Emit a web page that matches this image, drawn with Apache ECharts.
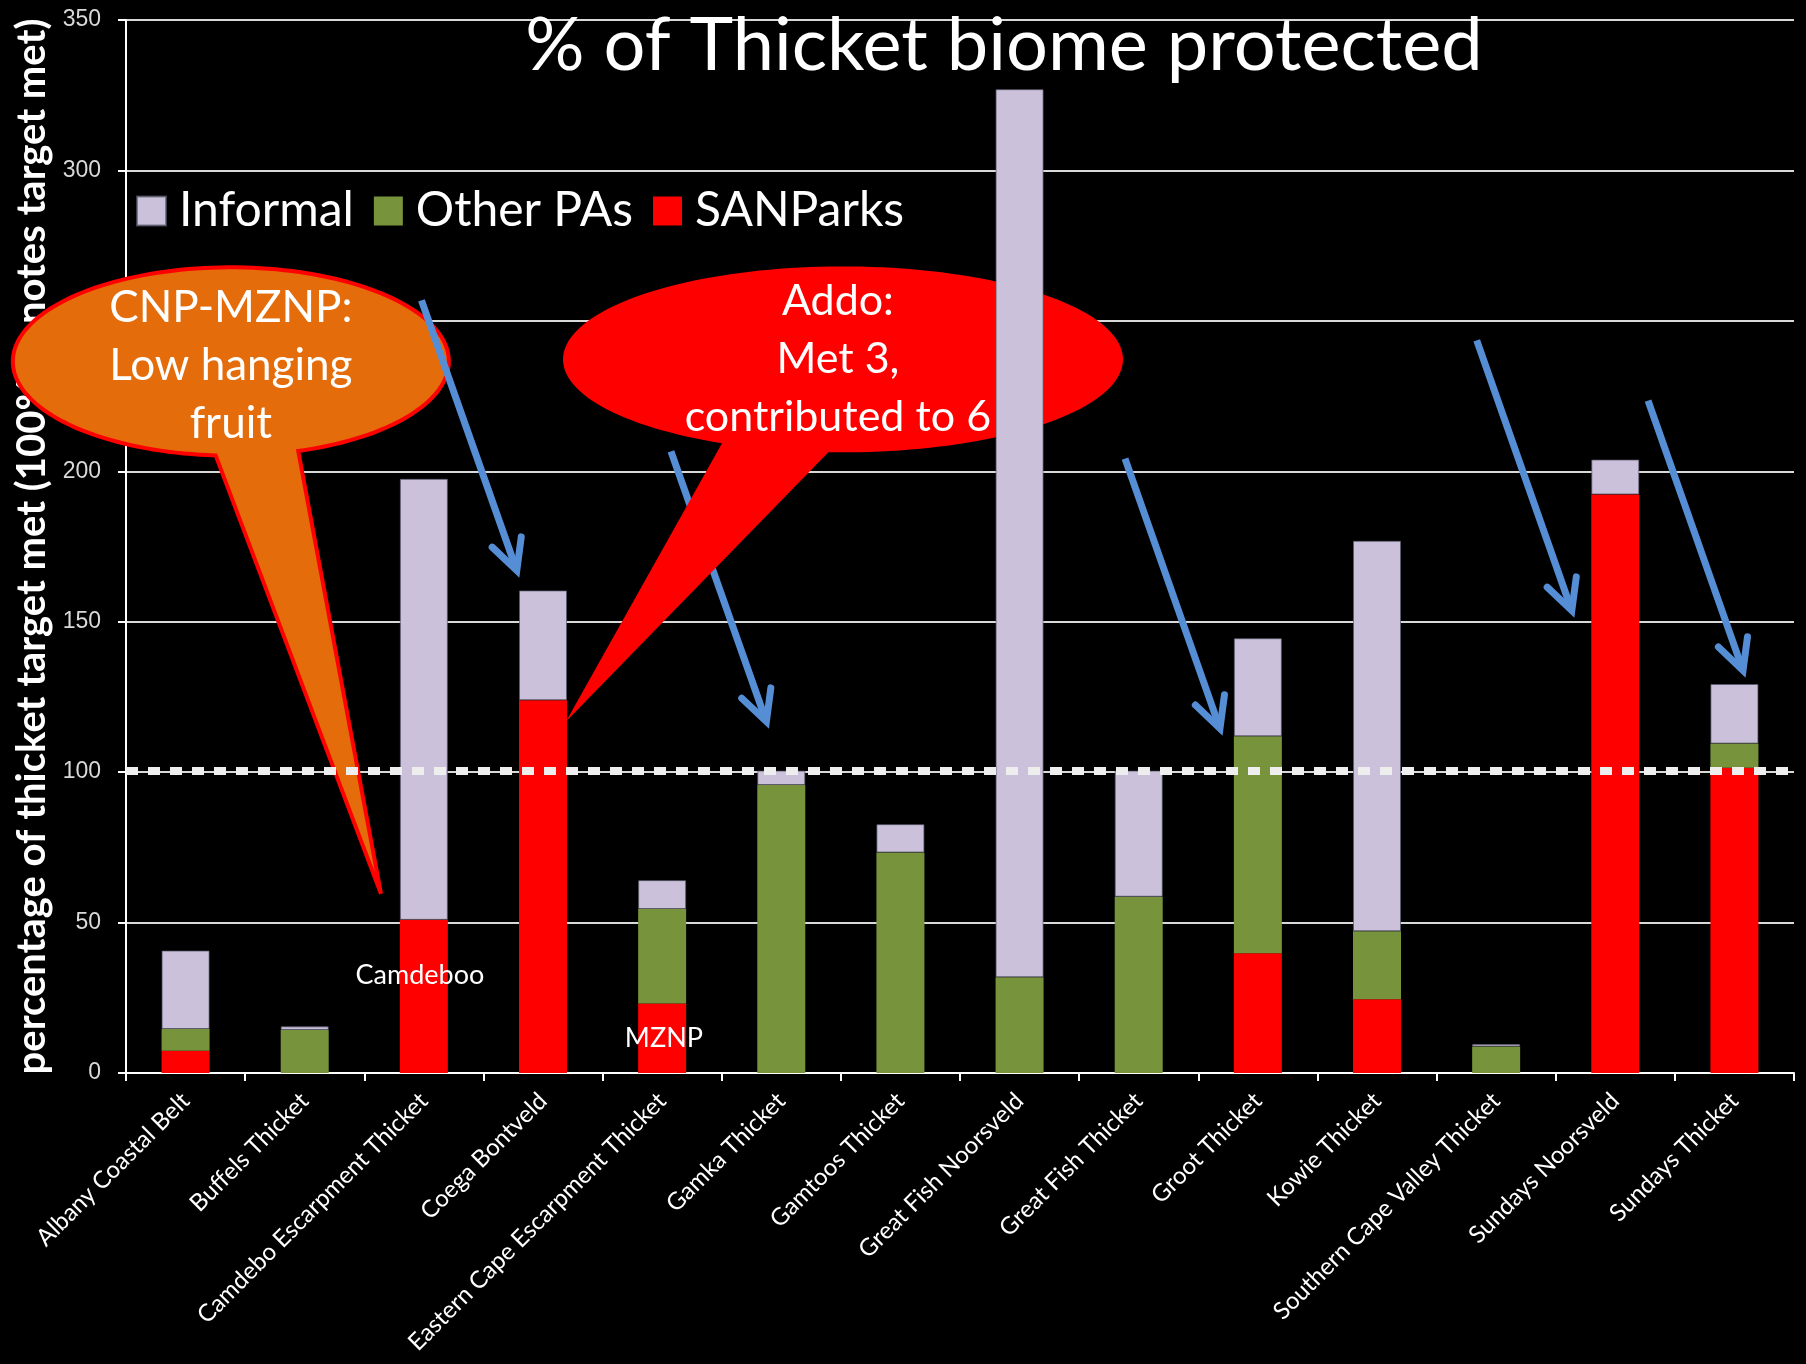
<!DOCTYPE html>
<html>
<head>
<meta charset="utf-8">
<script src="https://cdn.jsdelivr.net/npm/echarts@6/dist/echarts.min.js"></script>
<style>
html,body{margin:0;padding:0;background:#000;}
#chart{width:1806px;height:1364px;}
</style>
</head>
<body>
<div id="chart"></div>
<script>
// ---------- data ----------
const categories = ['Albany Coastal Belt','Buffels Thicket','Camdebo Escarpment Thicket','Coega Bontveld','Eastern Cape Escarpment Thicket','Gamka Thicket','Gamtoos Thicket','Great Fish Noorsveld','Great Fish Thicket','Groot Thicket','Kowie Thicket','Southern Cape Valley Thicket','Sundays Noorsveld','Sundays Thicket'];
const sanparks  = [7.4, 0, 50.9, 123.9, 23.1, 0, 0, 0, 0, 39.8, 24.5, 0, 192.3, 101.5];
const otherPAs  = [7.2, 14.3, 0, 0, 31.4, 95.7, 73.3, 31.8, 58.6, 72.1, 22.6, 8.8, 0, 8.0];
const informal  = [26.1, 1.2, 146.6, 36.5, 9.6, 4.8, 9.4, 295.2, 41.9, 32.6, 129.8, 0.8, 11.6, 19.8];
const seriesNames = ['Informal', 'Other PAs', 'SANParks'];
const targetLine = 100.5;
const titleText = '% of Thicket biome protected';
const yAxisName = 'percentage of thicket target met (100% denotes target met)';

// annotations in data space: [category index (fractional), value]
const callouts = [
  {lines: ['CNP-MZNP:', 'Low hanging', 'fruit'], center: [0.38, 236.5], textAt: [0.38, 235.1], rx: 1.83, ry: 31.3, tail: [72, 94], tip: [1.64, 59.6], fill: '#E46C0A', stroke: '#FF0000', font: 44},
  {lines: ['Addo:', 'Met 3,', 'contributed to 6'], center: [5.518, 237.2], textAt: [5.475, 237.2], rx: 2.35, ry: 30.9, tail: [93, 115.6], tip: [3.193, 116.8], fill: '#FF0000', stroke: null, font: 43}
];
const arrows = [
  [1.98, 256.8, 2.78, 167.0],
  [4.074, 206.6, 4.875, 116.8],
  [7.885, 204.2, 8.682, 114.5],
  [10.837, 243.5, 11.635, 153.7],
  [12.275, 223.5, 13.072, 133.8]
];
const notes = [
  {text: 'Camdeboo', at: [1.967, 32.4]},
  {text: 'MZNP', at: [4.015, 11.7]}
];

// ---------- chart ----------
const chart = echarts.init(document.getElementById('chart'));
const FONT = 'Lato, "Open Sans", sans-serif';

const option = {
  backgroundColor: '#000000',
  animation: false,
  legend: {
    data: seriesNames,
    left: 131,
    top: 182,
    itemWidth: 29,
    itemHeight: 29,
    itemGap: 20,
    icon: 'rect',
    textStyle: {color: '#FFFFFF', fontSize: 48, fontFamily: FONT, padding: [0, 0, 0, 8]}
  },
  grid: {left: 126, right: 12, top: 20, bottom: 291, containLabel: false},
  xAxis: {
    type: 'category',
    data: categories,
    axisLine: {lineStyle: {color: '#FFFFFF', width: 2}},
    axisTick: {show: true, alignWithLabel: false, length: 8, lineStyle: {color: '#FFFFFF', width: 2}},
    axisLabel: {interval: 0, rotate: 45, color: '#FFFFFF', fontSize: 24, fontFamily: FONT, margin: 24}
  },
  yAxis: {
    type: 'value',
    min: 0, max: 350, interval: 50,
    name: yAxisName,
    nameLocation: 'middle',
    nameGap: 71,
    nameTextStyle: {color: '#FFFFFF', fontSize: 40, fontWeight: 'bold', fontFamily: FONT},
    axisLine: {show: true, lineStyle: {color: '#FFFFFF', width: 2}},
    axisTick: {show: true, length: 8, lineStyle: {color: '#FFFFFF', width: 2}},
    axisLabel: {color: '#D9D9D9', fontSize: 23, fontFamily: '"Liberation Sans", Arial, sans-serif', margin: 25},
    splitLine: {lineStyle: {color: '#D9D9D9', width: 2}}
  },
  series: [
    {name: 'SANParks', type: 'bar', stack: 'total', data: sanparks, barWidth: 48, itemStyle: {color: '#FF0000'}},
    {name: 'Other PAs', type: 'bar', stack: 'total', data: otherPAs, barWidth: 48, itemStyle: {color: '#77933C'}},
    {name: 'Informal', type: 'bar', stack: 'total', data: informal, barWidth: 48,
      itemStyle: {color: '#CCC1DA', borderColor: 'rgba(90,90,110,0.7)', borderWidth: 1},
      markLine: {
        silent: true, symbol: 'none', z: 5,
        label: {show: false},
        lineStyle: {color: '#EEEEEE', width: 8, type: [12, 10], opacity: 1},
        data: [{yAxis: targetLine}]
      }
    }
  ]
};
chart.setOption(option);

// ---------- annotations (positioned through the axes) ----------
const p0 = chart.convertToPixel({gridIndex: 0}, [0, 0]);
const p1 = chart.convertToPixel({gridIndex: 0}, [1, 100]);
const catW = p1[0] - p0[0];
const unitH = (p1[1] - p0[1]) / 100;
const X = ci => p0[0] + ci * catW;
const Y = v => p0[1] + v * unitH;

const graphics = [];
graphics.push({
  type: 'text', z: 3,
  style: {text: titleText, x: 1004, y: 46, textAlign: 'center', textVerticalAlign: 'middle',
    fill: '#FFFFFF', font: 'normal 74px ' + FONT}
});

function bubble(c, z) {
  const cx = X(c.center[0]), cy = Y(c.center[1]);
  const rx = c.rx * catW, ry = Math.abs(c.ry * unitH);
  const pts = [];
  const a0 = c.tail[1], a1 = c.tail[0] + 360;
  const n = 160;
  for (let i = 0; i <= n; i++) {
    const t = (a0 + (a1 - a0) * i / n) * Math.PI / 180;
    pts.push([cx + rx * Math.cos(t), cy + ry * Math.sin(t)]);
  }
  pts.push([X(c.tip[0]), Y(c.tip[1])]);
  graphics.push({
    type: 'polygon', z: z, silent: true,
    shape: {points: pts},
    style: {fill: c.fill, stroke: c.stroke || c.fill, lineWidth: c.stroke ? 4 : 0, lineJoin: 'miter'}
  });
  graphics.push({
    type: 'text', z: z + 0.01, silent: true,
    style: {text: c.lines.join('\n'), x: X(c.textAt[0]), y: Y(c.textAt[1]),
      textAlign: 'center', textVerticalAlign: 'middle', lineHeight: 58,
      fill: '#FFFFFF', font: 'normal ' + c.font + 'px ' + FONT}
  });
}
bubble(callouts[0], 1);

arrows.forEach(a => {
  const x1 = X(a[0]), y1 = Y(a[1]), x2 = X(a[2]), y2 = Y(a[3]);
  const ang = Math.atan2(y1 - y2, x1 - x2);
  const L = 34, spread = 27 * Math.PI / 180;
  const w1 = [x2 + L * Math.cos(ang - spread), y2 + L * Math.sin(ang - spread)];
  const w2 = [x2 + L * Math.cos(ang + spread), y2 + L * Math.sin(ang + spread)];
  graphics.push({type: 'polyline', z: 1.2, silent: true,
    shape: {points: [[x1, y1], [x2 - 3 * Math.cos(ang + Math.PI), y2 - 3 * Math.sin(ang + Math.PI)]]},
    style: {stroke: '#558ED5', lineWidth: 7, lineCap: 'butt', fill: null}});
  graphics.push({type: 'polyline', z: 1.2, silent: true,
    shape: {points: [w1, [x2, y2], w2]},
    style: {stroke: '#558ED5', lineWidth: 7, lineCap: 'round', lineJoin: 'miter', fill: null}});
});

bubble(callouts[1], 1.5);

notes.forEach(nt => {
  graphics.push({type: 'text', z: 3, silent: true,
    style: {text: nt.text, x: X(nt.at[0]), y: Y(nt.at[1]), textAlign: 'center', textVerticalAlign: 'middle',
      fill: '#FFFFFF', font: 'normal 27px ' + FONT}});
});

chart.setOption({graphic: graphics});
</script>
</body>
</html>
